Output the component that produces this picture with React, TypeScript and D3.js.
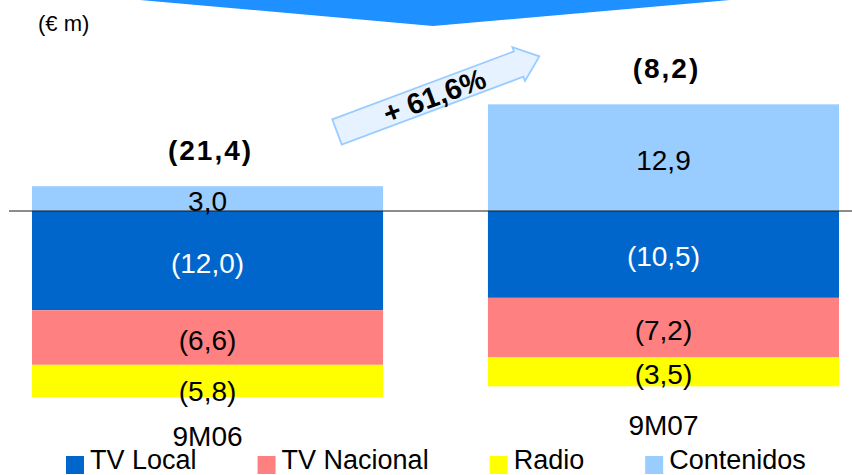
import React, { useEffect, useRef } from 'react'
import * as d3 from 'd3'

// periods
const periods = ['9M06', '9M07']

// drawn segment values (€m) per business line
const tvLocal = [-12.0, -10.5]
const tvNacional = [-6.6, -7.2]
const radio = [-3.9, -3.5]
const contenidos = [3.0, 12.9]

// values as printed on the chart (radio 9M06 is printed 5,8 but drawn shorter)
const radioPrinted = [-5.8, -3.5]

// printed labels
const tvLocalLabels = ['(12,0)', '(10,5)']
const tvNacionalLabels = ['(6,6)', '(7,2)']
const radioLabels = ['(5,8)', '(3,5)']
const contenidosLabels = ['3,0', '12,9']
const totalLabels = ['(21,4)', '(8,2)']
const growthLabel = '+ 61,6%'

const seriesNames = ['TV Local', 'TV Nacional', 'Radio', 'Contenidos']
const seriesColors = ['#0066CC', '#FF8080', '#FFFF00', '#99CCFF']
const labelColors = ['#ffffff', '#000000', '#000000', '#000000']

const W = 852
const H = 475
const FONT = '"Liberation Sans", Arial, sans-serif'

export default function App() {
    const ref = useRef<SVGSVGElement>(null)

    useEffect(() => {
        const svg = d3.select(ref.current)
        svg.selectAll('*').remove()

        const makeRows = (rad: number[]) => periods.map((p, i) => ({
            period: p,
            'TV Local': tvLocal[i],
            'TV Nacional': tvNacional[i],
            'Radio': rad[i],
            'Contenidos': contenidos[i]
        }))
        const labels = [tvLocalLabels, tvNacionalLabels, radioLabels, contenidosLabels]

        const x = d3.scaleBand().domain(periods).range([32, 839]).paddingInner(0.23).paddingOuter(0)
        const y = d3.scaleLinear().domain([-25, 15]).range([211 + 25 * 8.27, 211 - 15 * 8.27])

        const stack = d3.stack<any>().keys(seriesNames).offset(d3.stackOffsetDiverging)
        const stacked = stack(makeRows(radio))
        const printed = stack(makeRows(radioPrinted))

        // top banner shape
        svg.append('polygon')
            .attr('points', '140,0 433,26 730,0')
            .attr('fill', '#1E90FF')

        svg.append('text')
            .attr('x', 38).attr('y', 31)
            .attr('font-family', FONT).attr('font-size', 22)
            .text('(€ m)')

        // bars
        stacked.forEach((s, si) => {
            svg.append('g').selectAll('rect')
                .data(s)
                .join('rect')
                .attr('x', (d: any) => x(d.data.period)!)
                .attr('width', x.bandwidth())
                .attr('y', d => y(Math.max(d[0], d[1])))
                .attr('height', d => Math.abs(y(d[0]) - y(d[1])))
                .attr('fill', seriesColors[si])
        })

        // zero line
        svg.append('line')
            .attr('x1', 9).attr('x2', W)
            .attr('y1', y(0)).attr('y2', y(0))
            .attr('stroke', '#1a1a1a').attr('stroke-width', 1.2)

        // segment labels, centred on the printed values
        printed.forEach((s, si) => {
            svg.append('g').selectAll('text')
                .data(s)
                .join('text')
                .attr('x', (d: any) => x(d.data.period)! + x.bandwidth() / 2)
                .attr('y', d => (y(d[0]) + y(d[1])) / 2 + 12)
                .attr('text-anchor', 'middle')
                .attr('font-family', FONT).attr('font-size', 28)
                .attr('fill', labelColors[si])
                .text((d, i) => labels[si][i])
        })

        // totals
        svg.append('g').selectAll('text')
            .data(periods)
            .join('text')
            .attr('x', p => x(p)! + x.bandwidth() / 2 + 3)
            .attr('y', (p, i) => y(Math.max(contenidos[i], 0)) - 26)
            .attr('text-anchor', 'middle')
            .attr('font-family', FONT).attr('font-size', 28).attr('font-weight', 'bold')
            .attr('letter-spacing', 2)
            .text((p, i) => totalLabels[i])

        // period labels
        svg.append('g').selectAll('text')
            .data(periods)
            .join('text')
            .attr('x', p => x(p)! + x.bandwidth() / 2)
            .attr('y', (p, i) => y(tvLocal[i] + tvNacional[i] + radio[i]) + 49)
            .attr('text-anchor', 'middle')
            .attr('font-family', FONT).attr('font-size', 28)
            .text(p => p)

        // growth arrow
        const L = 216, hl = 22, sw = 13.5, hw = 18
        const arrow = svg.append('g').attr('transform', 'translate(337,132) rotate(-20.5)')
        arrow.append('polygon')
            .attr('points', [[0, -sw], [L - hl, -sw], [L - hl, -hw], [L, 0], [L - hl, hw], [L - hl, sw], [0, sw]].map(p => p.join(',')).join(' '))
            .attr('fill', '#E6F2FF')
            .attr('stroke', '#99CCFF').attr('stroke-width', 1.8)
        arrow.append('text')
            .attr('x', 104).attr('y', 0).attr('dy', '0.36em')
            .attr('text-anchor', 'middle')
            .attr('font-family', FONT).attr('font-size', 29).attr('font-weight', 'bold')
            .text(growthLabel)

        // legend
        let lx = 66
        seriesNames.forEach((name, i) => {
            svg.append('rect')
                .attr('x', lx).attr('y', 456).attr('width', 18).attr('height', 18)
                .attr('fill', seriesColors[i])
            const t = svg.append('text')
                .attr('x', lx + 24).attr('y', 469)
                .attr('font-family', FONT).attr('font-size', 27)
                .text(name)
            const w = (t.node() as SVGTextElement).getComputedTextLength()
            lx += 24 + w + 61
        })
    }, [])

    return (
        <svg ref={ref} width={W} height={H}
            style={{ position: 'absolute', left: 0, top: 0, background: '#fff' }} />
    )
}
